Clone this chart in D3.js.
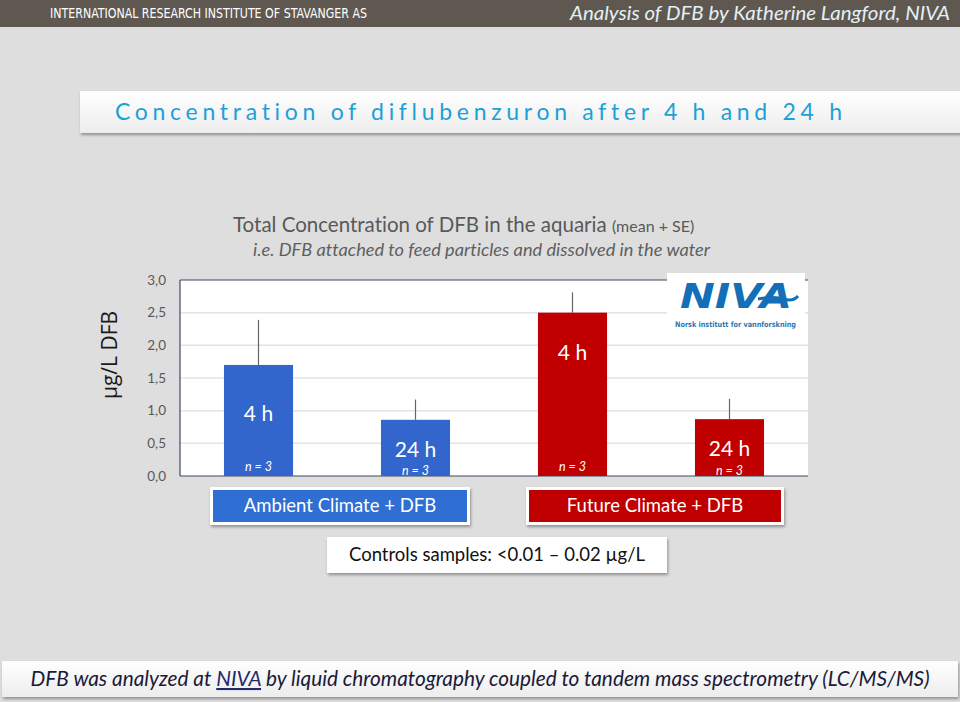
<!DOCTYPE html>
<html>
<head>
<meta charset="utf-8">
<script src="https://cdn.jsdelivr.net/npm/d3@7"></script>
<style>
  body { margin: 0; background: #dedede; }
  svg { display: block; }
  text { font-variant-ligatures: none; }
</style>
</head>
<body>
<svg id="chart" width="960" height="702"></svg>
<script>
// chart data
const categories = ["amb4", "amb24", "fut4", "fut24"];
const barLabels = ["4 h", "24 h", "4 h", "24 h"];
const means = [1.70, 0.86, 2.50, 0.87];
const errors = [0.69, 0.31, 0.31, 0.31];
const nLabels = ["n = 3", "n = 3", "n = 3", "n = 3"];
const groups = ["ambient", "ambient", "future", "future"];
const yTicks = [0, 0.5, 1.0, 1.5, 2.0, 2.5, 3.0];

const svg = d3.select("#chart");
const font = "Lato, 'Open Sans', sans-serif";

// shadow filter + gradient
const defs = svg.append("defs");
const f = defs.append("filter").attr("id", "shadow").attr("x", "-5%").attr("y", "-20%").attr("width", "110%").attr("height", "160%");
f.append("feDropShadow").attr("dx", 1).attr("dy", 2).attr("stdDeviation", 1.5).attr("flood-color", "#000").attr("flood-opacity", 0.35);
const g1 = defs.append("linearGradient").attr("id", "whiteGrad").attr("x1", 0).attr("y1", 0).attr("x2", 0).attr("y2", 1);
g1.append("stop").attr("offset", "0%").attr("stop-color", "#ffffff");
g1.append("stop").attr("offset", "100%").attr("stop-color", "#ededed");

svg.append("rect").attr("width", 960).attr("height", 702).attr("fill", "#dedede");

// header bar
svg.append("rect").attr("x", 0).attr("y", 0).attr("width", 960).attr("height", 27).attr("fill", "#5f5850");
svg.append("text").attr("x", 50).attr("y", 18)
  .attr("font-family", "'DejaVu Sans Condensed', sans-serif")
  .attr("font-size", 14).attr("fill", "#ffffff")
  .attr("textLength", 317).attr("lengthAdjust", "spacingAndGlyphs")
  .text("INTERNATIONAL RESEARCH INSTITUTE OF STAVANGER AS");
svg.append("text").attr("x", 570).attr("y", 20)
  .attr("font-family", font).attr("font-style", "italic")
  .attr("font-size", 19).attr("fill", "#e4f0f6")
  .attr("textLength", 380).attr("lengthAdjust", "spacingAndGlyphs")
  .text("Analysis of DFB by Katherine Langford, NIVA");

// title band
svg.append("rect").attr("x", 80).attr("y", 91).attr("width", 890).attr("height", 42)
  .attr("fill", "url(#whiteGrad)").attr("filter", "url(#shadow)");
svg.append("text").attr("x", 115).attr("y", 120)
  .attr("font-family", font).attr("font-size", 23)
  .attr("fill", "#1ba1d8")
  .attr("textLength", 727).attr("lengthAdjust", "spacing")
  .text("Concentration of diflubenzuron after 4 h and 24 h");

// chart titles
const t = svg.append("text").attr("x", 233).attr("y", 232)
  .attr("font-family", font).attr("fill", "#595959");
t.append("tspan").attr("font-size", 20.5).text("Total Concentration of DFB in the aquaria ");
t.append("tspan").attr("font-size", 16).text("(mean + SE)");
svg.append("text").attr("x", 253).attr("y", 256)
  .attr("font-family", font).attr("font-style", "italic").attr("font-size", 16.5)
  .attr("fill", "#5f5f5f")
  .attr("textLength", 457).attr("lengthAdjust", "spacingAndGlyphs")
  .text("i.e. DFB attached to feed particles and dissolved in the water");

// plot area
const plot = { left: 180, right: 808, top: 280, bottom: 476 };
const x = d3.scaleBand().domain(categories).range([plot.left, plot.right]).paddingInner(0.56).paddingOuter(0.28);
const y = d3.scaleLinear().domain([0, 3]).range([plot.bottom, plot.top]);

svg.append("rect").attr("x", plot.left).attr("y", plot.top)
  .attr("width", plot.right - plot.left).attr("height", plot.bottom - plot.top)
  .attr("fill", "#ffffff");

// gridlines
svg.append("g").selectAll("line").data(yTicks.filter(d => d > 0 && d < 3)).join("line")
  .attr("x1", plot.left).attr("x2", plot.right)
  .attr("y1", d => y(d)).attr("y2", d => y(d))
  .attr("stroke", "#e3e3e3").attr("stroke-width", 1.5);

// y axis labels
const yAxis = svg.append("g").attr("transform", `translate(${plot.left},0)`)
  .call(d3.axisLeft(y).tickValues(yTicks).tickSize(0).tickPadding(14)
    .tickFormat(d => d3.format(".1f")(d).replace(".", ",")));
yAxis.select(".domain").remove();
yAxis.selectAll("text").attr("font-family", font).attr("font-size", 13.5).attr("fill", "#595959");

// axis frame lines
svg.append("line").attr("x1", plot.left).attr("x2", plot.right).attr("y1", plot.top).attr("y2", plot.top)
  .attr("stroke", "#3f4a60").attr("stroke-width", 1.2);
svg.append("line").attr("x1", plot.left).attr("x2", plot.left).attr("y1", plot.top).attr("y2", plot.bottom)
  .attr("stroke", "#3f4a60").attr("stroke-width", 1.2);
svg.append("line").attr("x1", plot.left).attr("x2", plot.right).attr("y1", plot.bottom).attr("y2", plot.bottom)
  .attr("stroke", "#3f4a60").attr("stroke-width", 1.2);

// y title
svg.append("text").attr("transform", "translate(117,355) rotate(-90)")
  .attr("text-anchor", "middle").attr("font-family", "'Open Sans', sans-serif")
  .attr("font-size", 21).attr("fill", "#1a1a1a").text("µg/L DFB");

const colour = { ambient: "#3366cc", future: "#c00000" };
const bars = categories.map((c, i) => ({ c, v: means[i], e: errors[i], label: barLabels[i], n: nLabels[i], g: groups[i] }));

// error bars
svg.append("g").selectAll("line").data(bars).join("line")
  .attr("x1", d => x(d.c) + x.bandwidth() / 2).attr("x2", d => x(d.c) + x.bandwidth() / 2)
  .attr("y1", d => y(d.v)).attr("y2", d => y(d.v + d.e))
  .attr("stroke", "#666").attr("stroke-width", 1.2);

svg.append("g").selectAll("rect").data(bars).join("rect")
  .attr("x", d => x(d.c)).attr("width", x.bandwidth())
  .attr("y", d => y(d.v)).attr("height", d => y(0) - y(d.v))
  .attr("fill", d => colour[d.g]);

// labels inside bars
svg.append("g").selectAll("text").data(bars).join("text")
  .attr("x", d => x(d.c) + x.bandwidth() / 2)
  .attr("y", d => d.v > 2 ? y(d.v) + 47 : d.v > 1.2 ? y(d.v) + 56 : y(d.v) + 37)
  .attr("text-anchor", "middle").attr("font-family", font).attr("font-size", 21)
  .attr("fill", "#ffffff").text(d => d.label);
svg.append("g").selectAll("text").data(bars).join("text")
  .attr("x", d => x(d.c) + x.bandwidth() / 2)
  .attr("y", (d, i) => i % 2 === 0 ? y(0) - 5 : y(0) - 1)
  .attr("text-anchor", "middle").attr("font-family", font).attr("font-style", "italic")
  .attr("font-size", 12.5).attr("fill", "#ffffff").text(d => d.n);

// NIVA logo
svg.append("rect").attr("x", 667).attr("y", 273).attr("width", 138).attr("height", 56).attr("fill", "#ffffff");
svg.append("text").attr("x", 680).attr("y", 308)
  .attr("font-family", "'DejaVu Sans', sans-serif").attr("font-weight", "bold").attr("font-style", "italic")
  .attr("font-size", 34).attr("fill", "#1370b8")
  .attr("textLength", 112).attr("lengthAdjust", "spacingAndGlyphs").text("NIVA");
svg.append("path").attr("d", "M758,299 Q775,296 784,299 T798,296")
  .attr("fill", "none").attr("stroke", "#1370b8").attr("stroke-width", 3);
svg.append("text").attr("x", 675).attr("y", 327)
  .attr("font-family", "'DejaVu Sans', sans-serif").attr("font-weight", "bold")
  .attr("font-size", 7.5).attr("fill", "#2a78b5")
  .attr("textLength", 121).attr("lengthAdjust", "spacingAndGlyphs")
  .text("Norsk institutt for vannforskning");

// legend boxes
function box(x0, y0, w, h, fill, txt, txtCol) {
  svg.append("rect").attr("x", x0).attr("y", y0).attr("width", w).attr("height", h)
    .attr("fill", "#ffffff").attr("filter", "url(#shadow)");
  svg.append("rect").attr("x", x0 + 3).attr("y", y0 + 3).attr("width", w - 6).attr("height", h - 6)
    .attr("fill", fill);
  svg.append("text").attr("x", x0 + w / 2).attr("y", y0 + h / 2 + 6).attr("text-anchor", "middle")
    .attr("font-family", font).attr("font-size", 18.5).attr("fill", txtCol).text(txt);
}
box(210, 487, 260, 38, "#2f6fd3", "Ambient Climate + DFB", "#ffffff");
box(526, 487, 258, 38, "#c00000", "Future Climate + DFB", "#ffffff");
box(327, 537, 340, 36, "#ffffff", "Controls samples: <0.01 – 0.02 µg/L", "#111111");

// footer
svg.append("rect").attr("x", 2).attr("y", 661).attr("width", 956).attr("height", 36)
  .attr("fill", "url(#whiteGrad)").attr("filter", "url(#shadow)");
const ft = svg.append("text").attr("x", 480).attr("y", 686).attr("text-anchor", "middle")
  .attr("font-family", font).attr("font-style", "italic").attr("font-size", 20.8).attr("fill", "#1a1a3a");
ft.append("tspan").text("DFB was analyzed at ");
ft.append("tspan").attr("text-decoration", "underline").attr("fill", "#1f2a6b").text("NIVA");
ft.append("tspan").text(" by liquid chromatography coupled to tandem mass spectrometry (LC/MS/MS)");
</script>
</body>
</html>
